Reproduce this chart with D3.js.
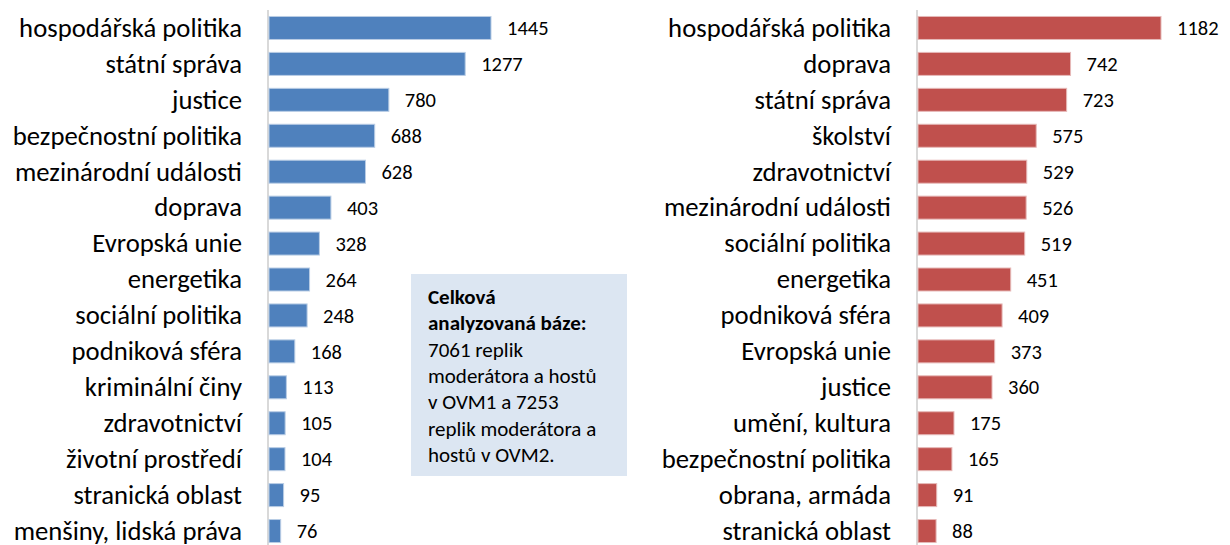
<!DOCTYPE html>
<html>
<head>
<meta charset="utf-8">
<script src="https://cdn.jsdelivr.net/npm/d3@7"></script>
<style>
  body { margin: 0; background: #fff; }
  svg { font-family: Carlito, Calibri, "Open Sans", sans-serif; }
</style>
</head>
<body>
<svg width="1230" height="545"></svg>
<script>
// OVM1 (left) categories and counts
var leftCategories = ['hospodářská politika', 'státní správa', 'justice', 'bezpečnostní politika',
    'mezinárodní události', 'doprava', 'Evropská unie', 'energetika', 'sociální politika',
    'podniková sféra', 'kriminální činy', 'zdravotnictví', 'životní prostředí',
    'stranická oblast', 'menšiny, lidská práva'];
var leftValues = [1445, 1277, 780, 688, 628, 403, 328, 264, 248, 168, 113, 105, 104, 95, 76];

// OVM2 (right) categories and counts
var rightCategories = ['hospodářská politika', 'doprava', 'státní správa', 'školství',
    'zdravotnictví', 'mezinárodní události', 'sociální politika', 'energetika',
    'podniková sféra', 'Evropská unie', 'justice', 'umění, kultura',
    'bezpečnostní politika', 'obrana, armáda', 'stranická oblast'];
var rightValues = [1182, 742, 723, 575, 529, 526, 519, 451, 409, 373, 360, 175, 165, 91, 88];

var noteBold = ['Celková', 'analyzovaná báze:'];
var noteLines = ['7061 replik', 'moderátora a hostů', 'v OVM1 a 7253', 'replik moderátora a', 'hostů v OVM2.'];

var svg = d3.select('svg');

// draws one horizontal bar panel
function drawPanel(cats, vals, opts) {
    var data = cats.map(function(c, i) { return {cat: c, val: vals[i]}; });

    var x = d3.scaleLinear()
        .domain([0, opts.maxVal])
        .range([opts.axisX, opts.axisX + opts.maxWidth]);
    var y = d3.scaleBand()
        .domain(cats)
        .range([10, 549])
        .paddingInner(0.36)
        .paddingOuter(0.18);

    var g = svg.append('g');

    g.append('line')
        .attr('x1', opts.axisX).attr('x2', opts.axisX)
        .attr('y1', 10).attr('y2', 545)
        .attr('stroke', '#d9d9d9')
        .attr('stroke-width', 2);

    g.selectAll('.bar')
        .data(data)
        .enter().append('rect')
        .attr('class', 'bar')
        .attr('x', x(0) + 1)
        .attr('y', function(d) { return y(d.cat); })
        .attr('width', function(d) { return x(d.val) - x(0); })
        .attr('height', y.bandwidth())
        .attr('fill', opts.color)
        .attr('stroke', opts.edge)
        .attr('stroke-width', 1);

    g.selectAll('.cat')
        .data(data)
        .enter().append('text')
        .attr('class', 'cat')
        .attr('x', opts.axisX - 26)
        .attr('y', function(d) { return y(d.cat) + y.bandwidth() / 2; })
        .attr('dy', '0.33em')
        .attr('text-anchor', 'end')
        .attr('font-size', 26.7)
        .attr('fill', '#000')
        .text(function(d) { return d.cat; });

    g.selectAll('.val')
        .data(data)
        .enter().append('text')
        .attr('class', 'val')
        .attr('x', function(d) { return x(d.val) + 17; })
        .attr('y', function(d) { return y(d.cat) + y.bandwidth() / 2; })
        .attr('dy', '0.35em')
        .attr('font-size', 20.5)
        .attr('fill', '#000')
        .text(function(d) { return d.val; });
}

drawPanel(leftCategories, leftValues, {axisX: 268, maxVal: 1445, maxWidth: 222, color: '#4f81bd', edge: '#b9cde5'});
drawPanel(rightCategories, rightValues, {axisX: 917, maxVal: 1182, maxWidth: 243, color: '#c0504d', edge: '#e6b9b8'});

// note box
var note = svg.append('g').attr('transform', 'translate(411,274)');
note.append('rect')
    .attr('width', 216).attr('height', 202)
    .attr('fill', '#dce6f2');
var lines = noteBold.map(function(t) { return {t: t, b: true}; })
    .concat(noteLines.map(function(t) { return {t: t, b: false}; }));
note.selectAll('text')
    .data(lines)
    .enter().append('text')
    .attr('x', 17)
    .attr('y', function(d, i) { return 30 + i * 26.3; })
    .attr('font-size', 21)
    .attr('font-weight', function(d) { return d.b ? 'bold' : 'normal'; })
    .attr('fill', '#000')
    .text(function(d) { return d.t; });
</script>
</body>
</html>
